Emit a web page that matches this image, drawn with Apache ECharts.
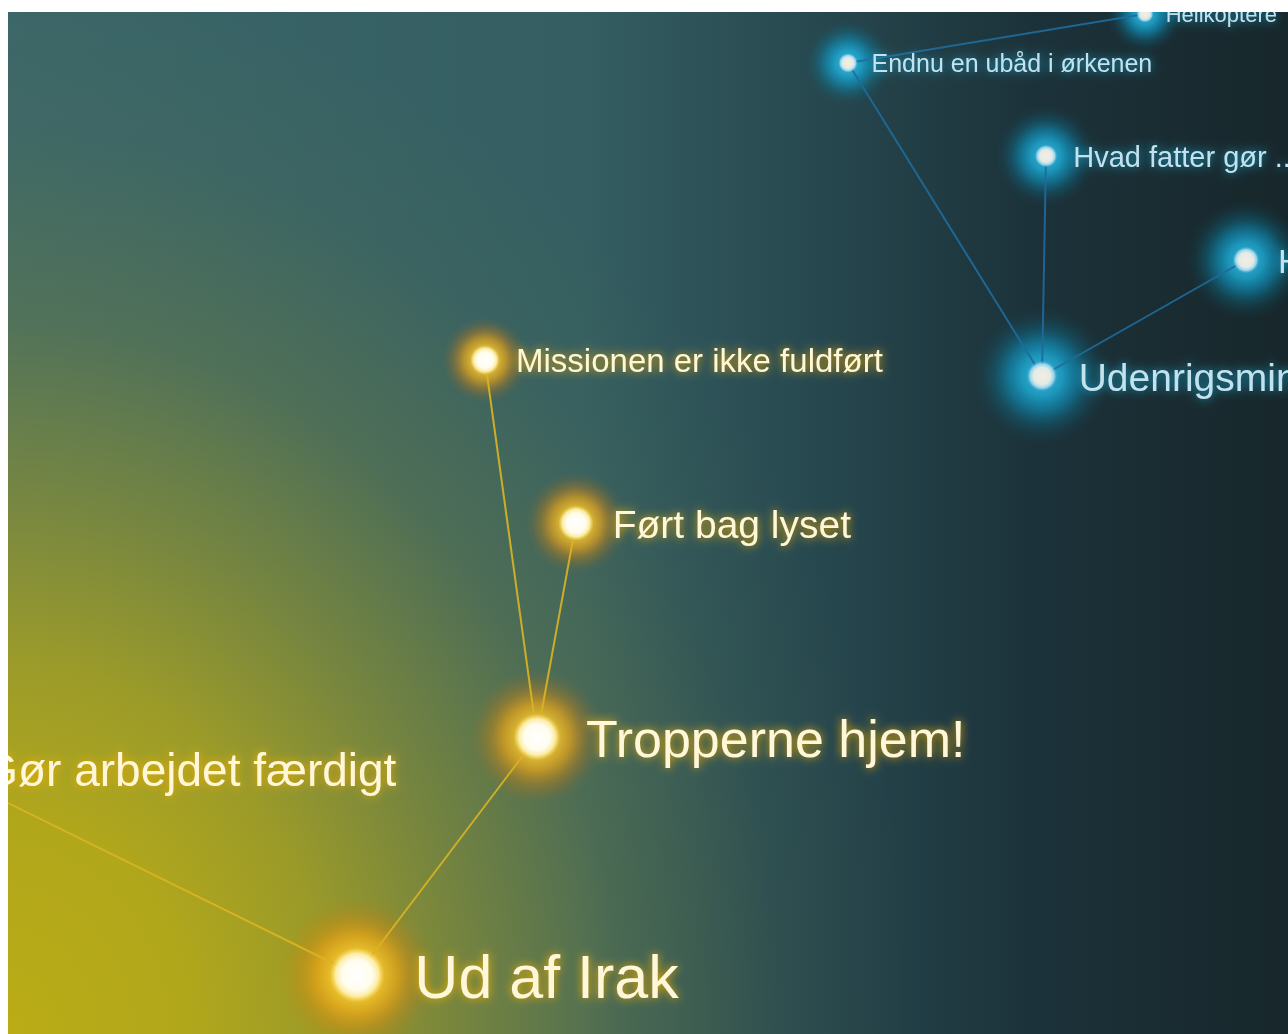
<!DOCTYPE html>
<html>
<head>
<meta charset="utf-8">
<script src="https://cdn.jsdelivr.net/npm/echarts@6/dist/echarts.min.js"></script>
<style>
  html, body { margin: 0; padding: 0; background: #ffffff; overflow: hidden; }
  #chart { position: absolute; left: 8px; top: 12px; width: 1280px; height: 1022px; }
</style>
</head>
<body>
<div id="chart"></div>
<script>
// ---- data ----
const nodeNames = [
  'Ud af Irak',
  'Tropperne hjem!',
  'Gør arbejdet færdigt',
  'Ført bag lyset',
  'Missionen er ikke fuldført',
  'Udenrigsministeren',
  'H',
  'Hvad fatter gør ...',
  'Endnu en ubåd i ørkenen',
  'Helikoptere'
];
const nodeX = [34.9, 52.9, -6.9, 56.8, 47.7, 103.4, 123.8, 103.8, 84.0, 113.7];
const nodeY = [96.3, 72.5, 75.7, 51.1, 34.8, 36.4, 24.8, 14.4, 5.1, 0.2];
const nodeWeight = [61, 52, 46, 39, 33, 39, 34, 29, 25, 22];
const nodeGroup = ['gold', 'gold', 'gold', 'gold', 'gold', 'blue', 'blue', 'blue', 'blue', 'blue'];
const linkSource = [0, 0, 1, 1, 5, 5, 5, 8];
const linkTarget = [1, 2, 3, 4, 6, 7, 8, 9];

// ---- styles ----
const styles = {
  gold: {
    core: [
      { offset: 0, color: 'rgba(255,255,255,1)' },
      { offset: 0.55, color: 'rgba(255,253,238,1)' },
      { offset: 0.78, color: 'rgba(255,242,180,0.9)' },
      { offset: 1, color: 'rgba(255,220,100,0)' }
    ],
    halo: [
      { offset: 0, color: 'rgba(255,232,100,1)' },
      { offset: 0.3, color: 'rgba(255,205,45,1)' },
      { offset: 0.5, color: 'rgba(248,170,20,0.8)' },
      { offset: 0.7, color: 'rgba(232,138,8,0.4)' },
      { offset: 0.87, color: 'rgba(220,120,0,0.12)' },
      { offset: 1, color: 'rgba(215,115,0,0)' }
    ],
    coreScale: 0.9,
    haloScale: 2.6,
    text: '#fff7da',
    textGlow: '#f0b000',
    line: '#dcb424'
  },
  blue: {
    core: [
      { offset: 0, color: 'rgba(244,238,226,1)' },
      { offset: 0.55, color: 'rgba(228,234,230,1)' },
      { offset: 0.78, color: 'rgba(160,218,238,0.9)' },
      { offset: 1, color: 'rgba(40,170,220,0)' }
    ],
    halo: [
      { offset: 0, color: 'rgba(80,210,248,1)' },
      { offset: 0.3, color: 'rgba(28,180,225,0.97)' },
      { offset: 0.5, color: 'rgba(15,158,205,0.72)' },
      { offset: 0.7, color: 'rgba(8,140,178,0.34)' },
      { offset: 0.87, color: 'rgba(5,125,160,0.1)' },
      { offset: 1, color: 'rgba(0,120,150,0)' }
    ],
    coreScale: 0.8,
    haloScale: 3.5,
    text: '#c4e2ee',
    textGlow: '#16a4cc',
    line: '#1e6c9c'
  }
};

const nodes = nodeNames.map(function (name, i) {
  const st = styles[nodeGroup[i]];
  const f = nodeWeight[i];
  const size = f * st.coreScale;
  return {
    name: name,
    value: [nodeX[i], nodeY[i]],
    symbolSize: size,
    itemStyle: {
      color: new echarts.graphic.RadialGradient(0.5, 0.5, 0.5, st.core)
    },
    label: {
      show: true,
      position: 'right',
      distance: f - size / 2 - f * 0.06,
      offset: [0, f * 0.1],
      fontSize: f,
      fontFamily: 'Liberation Sans, Arial, sans-serif',
      color: st.text,
      textShadowBlur: 10,
      textShadowColor: st.textGlow
    }
  };
});

const halos = nodeNames.map(function (name, i) {
  const st = styles[nodeGroup[i]];
  return {
    name: name,
    value: [nodeX[i], nodeY[i]],
    symbolSize: nodeWeight[i] * st.haloScale,
    itemStyle: { color: new echarts.graphic.RadialGradient(0.5, 0.5, 0.5, st.halo) }
  };
});

const links = linkSource.map(function (s, i) {
  const st = styles[nodeGroup[s]];
  return {
    source: s,
    target: linkTarget[i],
    lineStyle: { color: st.line, width: 2, opacity: 0.9, curveness: 0 }
  };
});

const glowScaleX = 0.86;
const chart = echarts.init(document.getElementById('chart'));
chart.setOption({
  animation: false,
  backgroundColor: new echarts.graphic.LinearGradient(0, 0, 1, 0, [
    { offset: 0, color: '#3b6669' },
    { offset: 0.45, color: '#345e62' },
    { offset: 0.63, color: '#27484f' },
    { offset: 0.8, color: '#1c323a' },
    { offset: 1, color: '#17272b' }
  ]),
  graphic: [{
    type: 'rect',
    silent: true,
    z: -10,
    x: 0,
    y: 0,
    scaleX: glowScaleX,
    originX: 0,
    originY: 0,
    shape: { x: 0, y: 0, width: 1280 / glowScaleX, height: 1022 },
    style: {
      fill: new echarts.graphic.RadialGradient(0, 1022, 1060, [
        { offset: 0, color: 'rgba(186,172,22,1)' },
        { offset: 0.2, color: 'rgba(186,172,22,0.93)' },
        { offset: 0.35, color: 'rgba(186,172,22,0.76)' },
        { offset: 0.5, color: 'rgba(186,172,22,0.48)' },
        { offset: 0.67, color: 'rgba(186,172,22,0.18)' },
        { offset: 0.85, color: 'rgba(186,172,22,0.04)' },
        { offset: 1, color: 'rgba(186,172,22,0)' }
      ], true)
    }
  }],
  grid: { left: 0, right: 0, top: 0, bottom: 0 },
  xAxis: { type: 'value', min: 0, max: 128, show: false },
  yAxis: { type: 'value', min: 0, max: 102.2, inverse: true, show: false },
  series: [{
    type: 'scatter',
    z: 1,
    silent: true,
    symbol: 'circle',
    data: halos,
    emphasis: { disabled: true }
  }, {
    type: 'graph',
    z: 3,
    coordinateSystem: 'cartesian2d',
    layout: 'none',
    symbol: 'circle',
    data: nodes,
    links: links,
    emphasis: { disabled: true }
  }]
});
</script>
</body>
</html>
